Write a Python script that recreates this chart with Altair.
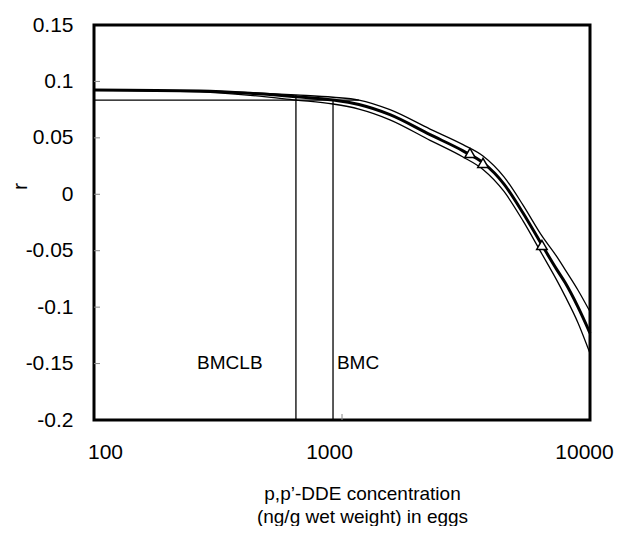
import altair as alt
import pandas as pd

# ---- data ----
x_vals = [100, 267, 426, 652, 920, 1170, 1561, 2265, 3076, 3703, 4500,
          5370, 6400, 7360, 7925, 8950, 10000]
r_central = [0.0924, 0.0915, 0.0895, 0.0865, 0.0835, 0.0795, 0.0705, 0.0528,
             0.0385, 0.0280, 0.0090, -0.0166, -0.0449, -0.0670, -0.0780,
             -0.1000, -0.1230]
r_upper = [0.0924, 0.0917, 0.0901, 0.0880, 0.0860, 0.0835, 0.0750, 0.0578,
           0.0440, 0.0340, 0.0155, -0.0096, -0.0369, -0.0555, -0.0665,
           -0.0850, -0.1040]
r_lower = [0.0924, 0.0907, 0.0877, 0.0835, 0.0800, 0.0755, 0.0660, 0.0478,
           0.0330, 0.0220, 0.0025, -0.0236, -0.0529, -0.0765, -0.0900,
           -0.1140, -0.1410]

obs_x = [3282, 3703, 6400]
obs_r = [0.0366, 0.0278, -0.0449]

bmr_level = 0.0835
bmr_line_end = 1170
vline_x = [652, 920]
vline_top = [0.088, 0.0845]

label_text = ["BMCLB", "BMC"]
label_x = [353, 1160]
label_y = [-0.1495, -0.1495]

y_ticks = [-0.2, -0.15, -0.1, -0.05, 0, 0.05, 0.1, 0.15]
x_ticks = [100, 1000, 10000]
inner_y_ticks = [-0.15, -0.1, -0.05, 0, 0.05, 0.1]
inner_x_ticks = [1000]

FONT = "Liberation Sans"

xscale = alt.Scale(type="log", domain=[100, 10000])
yscale = alt.Scale(domain=[-0.2, 0.15], nice=False, zero=False)

x_axis = alt.Axis(
    values=x_ticks, labelExpr="'' + datum.value", ticks=False, domain=False,
    grid=False, labelFontSize=21, labelPadding=21, labelFont=FONT,
    labelColor="black", labelFlush=False, labelOverlap=False,
    labelOffset={"condition": [{"test": "datum.value == 100", "value": 11},
                               {"test": "datum.value == 1000", "value": -13}],
                 "value": -6},
    title=["p,p\u2019-DDE concentration", "(ng/g wet weight) in eggs"],
    titleFont=FONT, titleFontSize=19, titleFontWeight="normal",
    titleColor="black", titleLineHeight=23, titleX=268, titleY=64,
    titleBaseline="top", titleAlign="center",
)
y_axis = alt.Axis(
    values=y_ticks, labelExpr="'' + round(datum.value*100)/100", ticks=False,
    domain=False, grid=False, labelFontSize=21, labelPadding=21,
    labelFont=FONT, labelColor="black", labelFlush=False, labelOverlap=False,
    title="r", titleFont=FONT, titleFontSize=21, titleFontWeight="normal",
    titleColor="black", titleX=-74, titleY=161, titleAlign="center",
    titleBaseline="middle", titleAngle=-90,
)

curves = pd.DataFrame({"x": x_vals, "central": r_central,
                       "upper": r_upper, "lower": r_lower})

base = alt.Chart(curves)

upper_line = base.mark_line(color="black", strokeWidth=1.3,
                            interpolate="monotone").encode(
    x=alt.X("x:Q", scale=xscale, axis=x_axis),
    y=alt.Y("upper:Q", scale=yscale, axis=y_axis),
)
lower_line = base.mark_line(color="black", strokeWidth=1.3,
                            interpolate="monotone").encode(
    x=alt.X("x:Q", scale=xscale),
    y=alt.Y("lower:Q", scale=yscale),
)
central_line = base.mark_line(color="black", strokeWidth=3,
                              interpolate="monotone").encode(
    x=alt.X("x:Q", scale=xscale),
    y=alt.Y("central:Q", scale=yscale),
)

hline = alt.Chart(pd.DataFrame({"x": [100], "x2": [bmr_line_end],
                                "y": [bmr_level]})).mark_rule(
    color="black", strokeWidth=1.3).encode(
    x=alt.X("x:Q", scale=xscale), x2="x2:Q",
    y=alt.Y("y:Q", scale=yscale),
)
vlines = alt.Chart(pd.DataFrame({"x": vline_x, "y": [-0.2, -0.2],
                                 "y2": vline_top})).mark_rule(
    color="black", strokeWidth=1.3).encode(
    x=alt.X("x:Q", scale=xscale),
    y=alt.Y("y:Q", scale=yscale), y2="y2:Q",
)

points = alt.Chart(pd.DataFrame({"x": obs_x, "r": obs_r})).mark_point(
    shape="triangle-up", filled=True, fill="white", stroke="black",
    strokeWidth=1.5, size=110, opacity=1).encode(
    x=alt.X("x:Q", scale=xscale),
    y=alt.Y("r:Q", scale=yscale),
)

labels = alt.Chart(pd.DataFrame({"t": label_text, "x": label_x,
                                 "y": label_y})).mark_text(
    font=FONT, fontSize=19, color="black", align="center",
    baseline="middle").encode(
    x=alt.X("x:Q", scale=xscale),
    y=alt.Y("y:Q", scale=yscale),
    text="t:N",
)

ytick_marks = alt.Chart(pd.DataFrame({"y": inner_y_ticks})).mark_rule(
    color="#888888", strokeWidth=1).encode(
    y=alt.Y("y:Q", scale=yscale), x=alt.value(0), x2=alt.value(6),
)
xtick_marks = alt.Chart(pd.DataFrame({"x": inner_x_ticks})).mark_rule(
    color="#888888", strokeWidth=1).encode(
    x=alt.X("x:Q", scale=xscale), y=alt.value(395), y2=alt.value(389),
)

chart = alt.layer(
    upper_line, lower_line, central_line, hline, vlines,
    ytick_marks, xtick_marks, points, labels,
).properties(
    width=496, height=395,
    autosize=alt.AutoSizeParams(type="none"),
    padding={"left": 86, "top": 17, "right": 25, "bottom": 106},
    background="white",
).configure_view(
    stroke="black", strokeWidth=3,
)

chart.save("out.html", embed_options={"renderer": "svg", "actions": False})
